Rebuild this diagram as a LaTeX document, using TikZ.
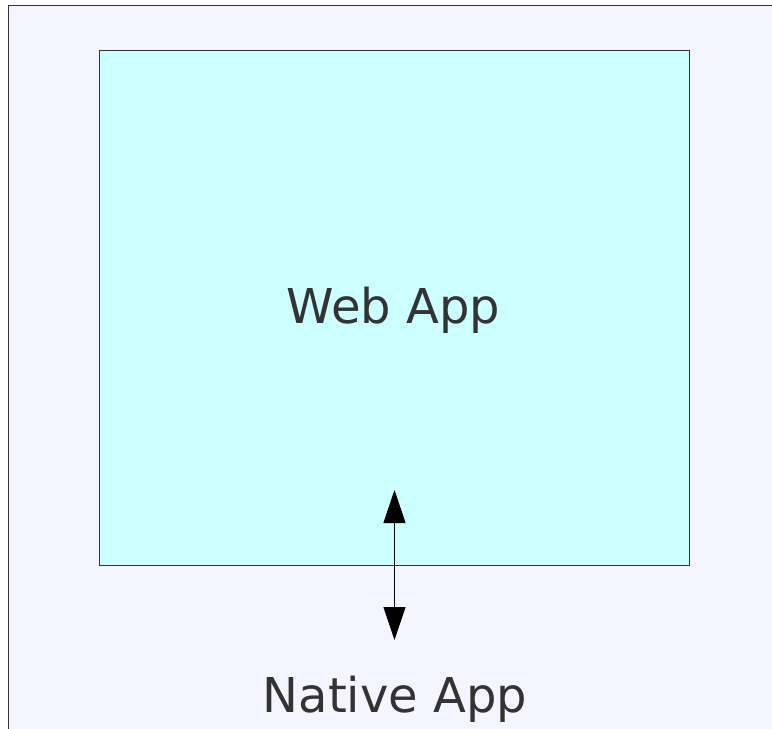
\documentclass[tikz,border=0pt]{standalone}
\usepackage{fontspec}
\setmainfont{DejaVu Sans}
\usetikzlibrary{arrows.meta}
\definecolor{pagebg}{HTML}{F5F5FF}
\definecolor{webbg}{HTML}{CCFFFF}
\definecolor{ink}{HTML}{333333}
\begin{document}
\begin{tikzpicture}[x=1pt, y=-1pt,
    label/.style={text=ink, font=\fontsize{48}{52}\selectfont, inner sep=0pt},
    appbox/.style={draw=ink, fill=webbg, line width=0.8pt, minimum width=590pt, minimum height=515pt}]
  \useasboundingbox (0,0) rectangle (772,729);
  \clip (0,0) rectangle (772,729);
  \draw[draw=ink, fill=pagebg, line width=1pt] (8.5,5.5) rectangle (800,760);
  \node[appbox] (box) at (394,307.5) {};
  \node[label, anchor=base] (web) at (393.5,323) {Web App};
  \node[label, anchor=base] (native) at (395,712) {Native App};
  \coordinate (top) at (394.5,490);
  \coordinate (bottom) at (394.5,640);
  \draw[line width=1.2pt, {Triangle[length=33pt,width=22pt]}-{Triangle[length=33pt,width=22pt]}] (top) -- (bottom);
\end{tikzpicture}
\end{document}
